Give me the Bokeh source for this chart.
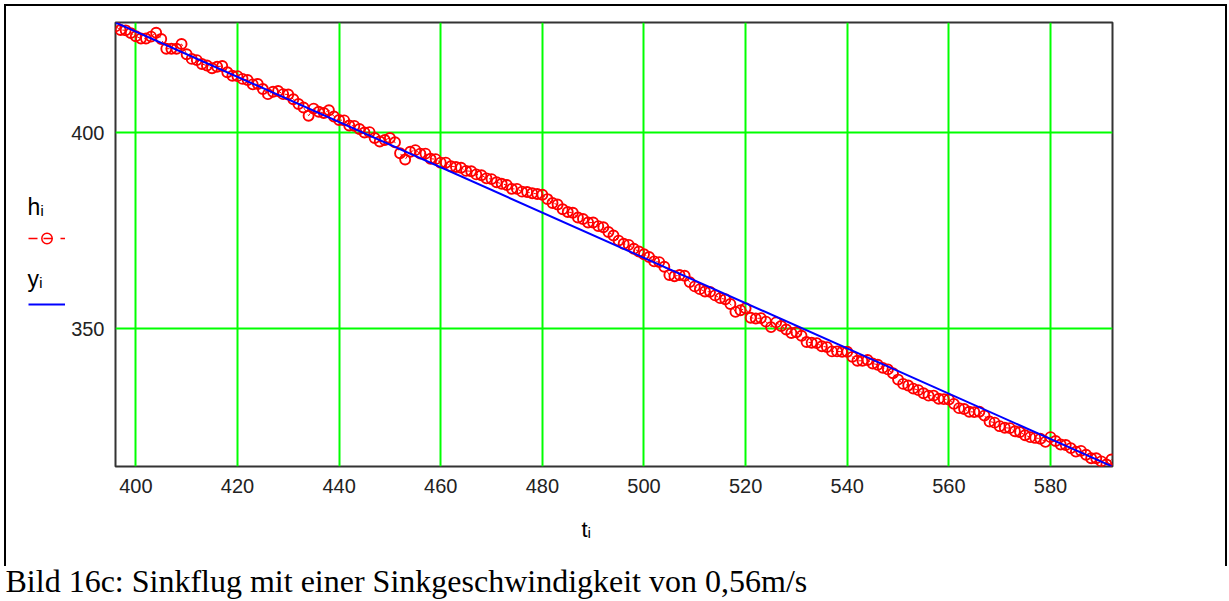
from bokeh.plotting import figure
from bokeh.layouts import row, column
from bokeh.models import (Range1d, FixedTicker, Legend, LegendItem, Title, Label,
                          InlineStyleSheet)
from bokeh.embed import file_html
from bokeh.resources import INLINE

# ---------------- data ----------------
t_values = list(range(396, 593))  # t_i, one sample per second

h_values = [
    427.2, 426.3, 426.2, 425.5, 424.7, 424.1, 424.1, 424.6, 425.6, 424.0,
    421.5, 421.5, 421.5, 422.7, 420.1, 418.9, 418.6, 417.6, 417.2, 416.5,
    416.9, 417.1, 415.5, 414.6, 414.5, 413.8, 413.5, 412.4, 412.5, 411.2,
    409.9, 410.5, 410.7, 409.9, 409.8, 408.6, 407.4, 406.5, 404.4, 406.2,
    405.4, 405.1, 405.8, 404.2, 403.3, 403.2, 401.9, 401.8, 401.0, 400.1,
    400.2, 398.7, 397.8, 398.2, 398.7, 397.6, 394.8, 393.2, 395.2, 395.6,
    394.7, 394.7, 393.4, 393.3, 392.4, 392.4, 391.5, 391.3, 391.1, 390.3,
    390.2, 389.4, 389.2, 388.4, 388.2, 387.4, 387.0, 386.7, 385.7, 385.7,
    385.0, 384.9, 384.6, 384.4, 384.2, 383.1, 382.1, 381.7, 380.5, 379.8,
    379.6, 378.4, 378.0, 377.1, 377.1, 376.2, 375.9, 374.7, 373.8, 372.5,
    371.7, 371.4, 370.4, 369.7, 369.0, 368.3, 367.2, 367.0, 365.8, 363.7,
    363.4, 363.7, 363.5, 361.9, 360.8, 360.1, 359.5, 359.4, 358.5, 357.8,
    357.5, 356.3, 354.3, 354.7, 355.2, 352.8, 352.6, 352.7, 351.8, 350.4,
    351.6, 350.7, 349.8, 348.9, 349.1, 348.2, 346.6, 346.4, 346.3, 345.5,
    345.3, 344.2, 344.2, 344.1, 344.1, 342.8, 341.8, 341.8, 342.0, 341.1,
    340.8, 340.0, 339.6, 338.6, 337.0, 335.9, 335.5, 334.7, 334.3, 333.5,
    332.9, 332.9, 332.1, 332.0, 331.9, 330.8, 329.7, 329.5, 328.8, 328.7,
    328.8, 327.8, 326.3, 326.0, 325.1, 324.7, 324.6, 323.8, 323.6, 322.8,
    322.3, 322.1, 321.9, 321.1, 322.3, 321.3, 320.4, 320.3, 319.5, 318.6,
    318.8, 317.8, 316.9, 316.9, 316.1, 315.3, 316.6,
]

# regression line y_i (end points)
fit_t = [396, 592]
fit_y = [428.2, 314.9]

x_ticks = [400, 420, 440, 460, 480, 500, 520, 540, 560, 580]
y_ticks = [350, 400]

x_limits = (396.0, 592.2)
y_limits = (314.8, 428.2)

caption = "Bild 16c: Sinkflug mit einer Sinkgeschwindigkeit von 0,56m/s"
label_h = "h\u1d62"
label_y = "y\u1d62"
label_t = "t\u1d62"

# ---------------- layout geometry ----------------
W, H = 1229, 601
LEG_W = 68            # left strip holding the Mathcad-style legend
CAP_H = 40            # bottom strip holding the caption
TOP_H = H - CAP_H
FL, FR, FT, FB = 114, 1112, 22, 466   # frame edges in page pixels
SANS = "Liberation Sans"

# ---------------- main chart ----------------
p = figure(width=W - LEG_W, height=TOP_H, output_backend="svg", toolbar_location=None,
           x_range=Range1d(*x_limits), y_range=Range1d(*y_limits),
           min_border_left=FL - LEG_W, min_border_right=W - FR,
           min_border_top=FT, min_border_bottom=TOP_H - FB)
p.background_fill_color = "white"
p.border_fill_color = "white"
p.outline_line_color = "#333333"
p.outline_line_width = 2

p.xaxis.ticker = FixedTicker(ticks=x_ticks)
p.yaxis.ticker = FixedTicker(ticks=y_ticks)
for ax in (p.xaxis, p.yaxis):
    ax.axis_line_color = None
    ax.major_tick_line_color = None
    ax.minor_tick_line_color = None
    ax.major_tick_in = 0
    ax.major_tick_out = 0
    ax.major_label_text_font = SANS
    ax.major_label_text_font_size = "20px"
    ax.major_label_text_color = "#222222"
p.xaxis.major_label_standoff = 12
p.yaxis.major_label_standoff = 11

p.grid.grid_line_color = "#00ff00"
p.grid.grid_line_width = 2
p.grid.grid_line_alpha = 1.0

p.line(t_values, h_values, line_color="red", line_dash="4 4", line_width=1)
p.scatter(t_values, h_values, marker="circle", size=10, fill_color=None,
          line_color="red", line_width=1.9)
p.line(fit_t, fit_y, line_color="blue", line_width=2)

p.add_layout(Title(text=label_t, align="left", offset=580 - FL, standoff=39,
                   text_font=SANS, text_font_size="22px",
                   text_font_style="normal", text_color="black"), "below")

# ---------------- legend strip (left) ----------------
# its frame is aligned by the row layout with the chart frame (bottom at FB)
lg = figure(width=LEG_W, height=TOP_H, output_backend="svg", toolbar_location=None,
            x_axis_type=None, y_axis_type=None,
            x_range=Range1d(0, 1), y_range=Range1d(0, 1),
            min_border=0, outline_line_color=None)
lg.background_fill_color = "white"
lg.border_fill_color = "white"
# proxies of the two traces (their points fall outside this strip's ranges,
# only the legend samples are visible)
r_dash = lg.line(t_values, h_values, line_color="red", line_dash="9 6 9 8", line_width=1.5)
r_dot = lg.scatter(t_values, h_values, marker="circle", fill_color=None,
                   line_color="red", line_width=1.5)
b_ln = lg.line(fit_t, fit_y, line_color="blue", line_width=2)

legend = Legend(items=[LegendItem(label=" ", renderers=[r_dash, r_dot]),
                       LegendItem(label=" ", renderers=[b_ln])],
                location=(28, FB - 317), orientation="vertical",
                glyph_width=37, glyph_height=26, spacing=40,
                label_standoff=0, label_width=1, label_text_font_size="2px",
                padding=0, margin=0,
                border_line_color=None, background_fill_alpha=0)
lg.add_layout(legend)

for txt, base in ((label_h, 206), (label_y, 278)):
    lg.add_layout(Label(x=27, y=FB - base, x_units="screen", y_units="screen",
                        text=txt, text_font=SANS, text_font_size="23px",
                        text_color="black", text_baseline="alphabetic"))

# ---------------- caption strip (bottom) ----------------
cp = figure(width=W, height=CAP_H, output_backend="svg", toolbar_location=None,
            x_axis_type=None, y_axis_type=None,
            x_range=Range1d(0, 1), y_range=Range1d(0, 1),
            min_border=0, outline_line_color=None)
cp.background_fill_color = "white"
cp.border_fill_color = "white"
cp.add_layout(Label(x=5, y=21, x_units="screen", y_units="screen",
                    text=caption, text_font="Liberation Serif", text_font_size="32px",
                    text_color="black", text_baseline="alphabetic"))

page = column(row(lg, p, spacing=0), cp, spacing=0)

# outer frame of the picture (top, left and right edges)
page.stylesheets = [InlineStyleSheet(css="""
:host { position: relative; }
:host::after {
  content: ""; position: absolute; left: 4px; top: 4px;
  width: 1223px; height: 562px; box-sizing: border-box;
  border-top: 2px solid #000; border-left: 2px solid #000;
  border-right: 2px solid #000; pointer-events: none; z-index: 10;
}
""")]

open("out.html", "w").write(file_html(page, INLINE))
